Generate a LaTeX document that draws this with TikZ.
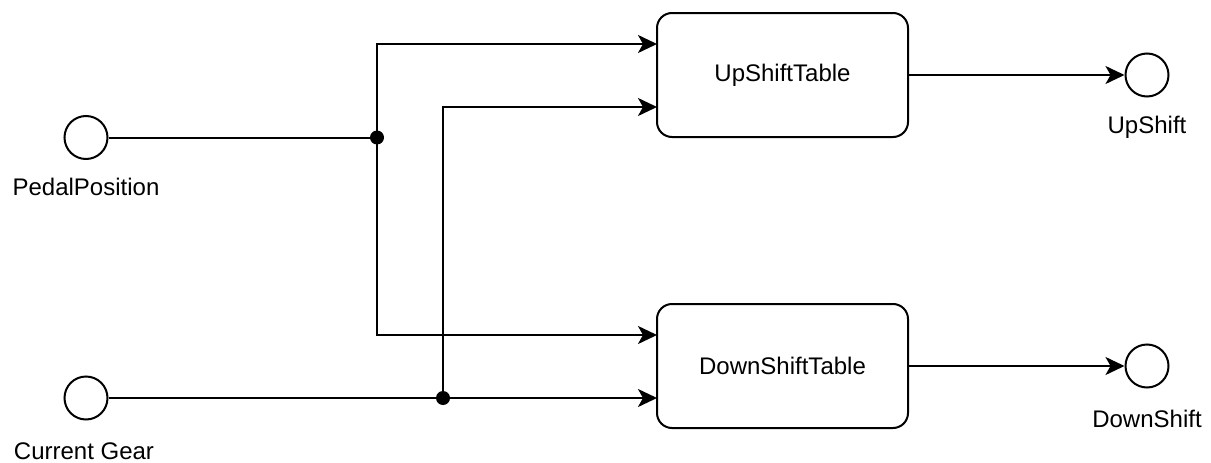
\documentclass[tikz,border=0pt]{standalone}
\usepackage{fontspec}
\setmainfont{Liberation Sans}
\usetikzlibrary{arrows.meta}
\tikzset{
  wire/.style={line width=2pt, line join=miter},
  flow/.style={wire, -{Stealth[length=19pt, width=18pt, inset=5pt]}},
  port/.style={circle, draw, line width=2pt, minimum size=43pt, inner sep=0pt},
  tablebox/.style={draw, line width=2pt, rounded corners=15pt, minimum width=251pt, minimum height=124pt, inner sep=0pt},
  lbl/.style={inner sep=0pt, font=\fontsize{24}{28}\selectfont},
  joint/.style={circle, fill, minimum size=14pt, inner sep=0pt}
}
\begin{document}
\begin{tikzpicture}[x=1pt, y=-1pt]
  \useasboundingbox (0,0) rectangle (1211,463);

  % input ports
  \node[port] (pp) at (86,137.5) {};
  \node[lbl] (pplbl) at (86,187) {PedalPosition};
  \node[port] (cg) at (86,398) {};
  \node[lbl] (cglbl) at (84,451) {Current Gear};

  % lookup tables
  \node[tablebox, lbl] (ust) at (782.5,75) {UpShiftTable};
  \node[tablebox, lbl] (dst) at (782.5,366) {DownShiftTable};

  % output ports
  \node[port] (us) at (1147,75) {};
  \node[lbl] (uslbl) at (1147,127) {UpShift};
  \node[port] (ds) at (1147,366) {};
  \node[lbl] (dslbl) at (1147,419) {DownShift};

  % branch points
  \node[joint] (j1) at (377,137.5) {};
  \node[joint] (j2) at (443,398) {};

  % table input pins
  \coordinate (u1) at (657,44);
  \coordinate (u2) at (657,107);
  \coordinate (d1) at (657,335);
  \coordinate (d2) at (657,398);

  % pedal position fans out to both tables
  \draw[wire] (pp.east) -- (j1.center);
  \draw[flow] (j1.center) |- (u1);
  \draw[flow] (j1.center) |- (d1);

  % current gear fans out to both tables
  \draw[wire] (cg.east) -- (j2.center);
  \draw[flow] (j2.center) -- (d2);
  \draw[flow] (j2.center) |- (u2);

  % table outputs
  \draw[flow] (ust.east) -- (us.west);
  \draw[flow] (dst.east) -- (ds.west);
\end{tikzpicture}
\end{document}
